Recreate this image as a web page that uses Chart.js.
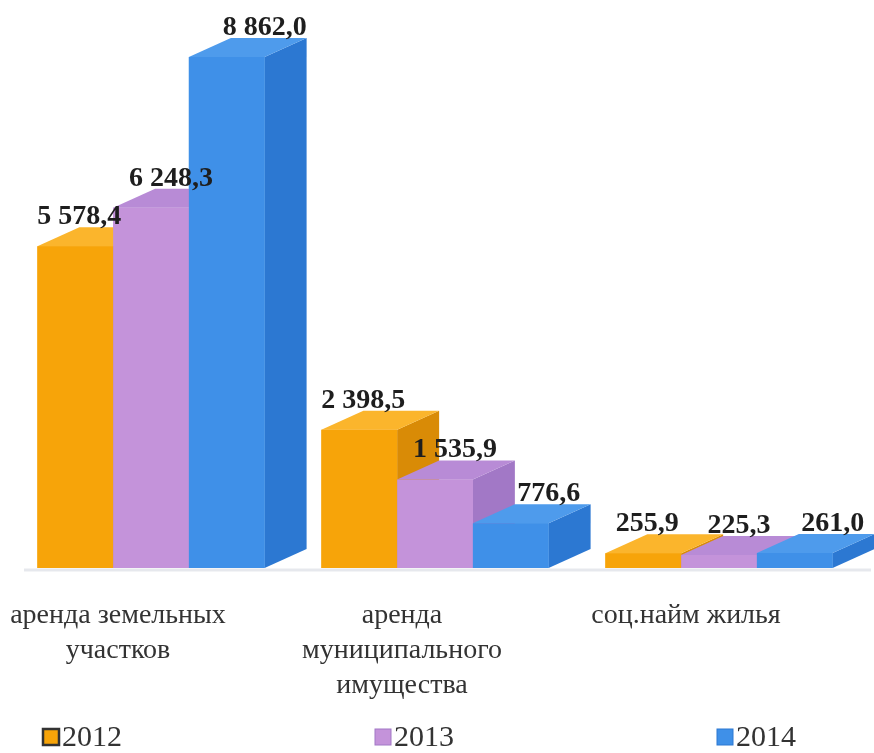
<!DOCTYPE html>
<html>
<head>
<meta charset="utf-8">
<script src="https://cdn.jsdelivr.net/npm/chart.js@4.4.0/dist/chart.umd.min.js"></script>
<style>
  html, body { margin: 0; padding: 0; background: #fff; }
  canvas { display: block; }
</style>
</head>
<body>
<canvas id="bar-chart" width="874" height="753"></canvas>
<script>
const categories = [
    ['аренда земельных', 'участков'],
    ['аренда', 'муниципального', 'имущества'],
    ['соц.найм жилья']
];
const years = ['2012', '2013', '2014'];
const values2012 = [5578.4, 2398.5, 255.9];
const values2013 = [6248.3, 1535.9, 225.3];
const values2014 = [8862.0, 776.6, 261.0];

// front, top, side colours for each year
const palette = [
    {front: '#F7A409', top: '#FBB52C', side: '#D98B06'},
    {front: '#C493DA', top: '#B88BD6', side: '#A278C6'},
    {front: '#3F90E8', top: '#4E9BEC', side: '#2C78D2'}
];
const depth = {dx: 42, dy: 19};
const labelShift = [4, 20, 38];   // perspective shift of value labels per series
const serif = '"Liberation Serif", "Times New Roman", serif';

function fmt(v) {
    const parts = v.toFixed(1).split('.');
    return parts[0].replace(/\B(?=(\d{3})+(?!\d))/g, ' ') + ',' + parts[1];
}

function poly(ctx, pts, color) {
    ctx.beginPath();
    ctx.moveTo(pts[0][0], pts[0][1]);
    for (let i = 1; i < pts.length; i++) ctx.lineTo(pts[i][0], pts[i][1]);
    ctx.closePath();
    ctx.fillStyle = color;
    ctx.fill();
}

const bars3d = {
    id: 'bars3d',
    beforeDatasetsDraw(chart) {
        const ctx = chart.ctx;
        const area = chart.chartArea;
        // floor shadow
        ctx.save();
        ctx.strokeStyle = 'rgba(200,205,215,0.45)';
        ctx.lineWidth = 3;
        ctx.beginPath();
        ctx.moveTo(area.left + 15, area.bottom + 2);
        ctx.lineTo(area.right + 10, area.bottom + 2);
        ctx.stroke();
        ctx.restore();
    },
    afterDatasetsDraw(chart) {
        const ctx = chart.ctx;
        const metas = chart.data.datasets.map((ds, d) => chart.getDatasetMeta(d));
        ctx.save();
        chart.data.labels.forEach((lab, i) => {
            metas.forEach((meta, d) => {
                const c = palette[d];
                const {x, y, base, width} = meta.data[i].getProps(['x', 'y', 'base', 'width'], true);
                const l = x - width / 2, r = x + width / 2;
                poly(ctx, [[r, y], [r + depth.dx, y - depth.dy], [r + depth.dx, base - depth.dy], [r, base]], c.side);
                poly(ctx, [[l, y], [l + depth.dx, y - depth.dy], [r + depth.dx, y - depth.dy], [r, y]], c.top);
                poly(ctx, [[l, y], [r, y], [r, base], [l, base]], c.front);
            });
        });
        ctx.restore();
    },
    afterDraw(chart) {
        const ctx = chart.ctx;
        const xs = chart.scales.x;
        ctx.save();
        // value labels
        ctx.font = 'bold 28px ' + serif;
        ctx.fillStyle = '#1e1e1e';
        ctx.textAlign = 'center';
        ctx.textBaseline = 'alphabetic';
        chart.data.datasets.forEach((ds, d) => {
            chart.getDatasetMeta(d).data.forEach((el, i) => {
                ctx.fillText(fmt(ds.data[i]), el.x + labelShift[d], el.y - depth.dy - 3);
            });
        });
        // category labels
        ctx.font = '28px ' + serif;
        ctx.fillStyle = '#333';
        ctx.textBaseline = 'middle';
        categories.forEach((lines, i) => {
            const cx = xs.getPixelForValue(i) - 33;
            lines.forEach((t, k) => ctx.fillText(t, cx, 616 + k * 35));
        });
        // legend
        const lx = [43, 375, 717];
        ctx.font = '30px ' + serif;
        ctx.textAlign = 'left';
        years.forEach((y, i) => {
            const c = palette[i];
            ctx.fillStyle = c.front;
            ctx.fillRect(lx[i], 729, 16, 16);
            ctx.strokeStyle = i === 0 ? '#333' : c.side;
            ctx.lineWidth = i === 0 ? 2.5 : 1;
            ctx.strokeRect(lx[i], 729, 16, 16);
            ctx.fillStyle = '#333';
            ctx.fillText(y, lx[i] + 19, 738);
        });
        ctx.restore();
    }
};

const ctx = document.getElementById('bar-chart').getContext('2d');
const myChart = new Chart(ctx, {
    type: 'bar',
    data: {
        labels: categories,
        datasets: [
            {label: years[0], data: values2012, backgroundColor: palette[0].front},
            {label: years[1], data: values2013, backgroundColor: palette[1].front},
            {label: years[2], data: values2014, backgroundColor: palette[2].front}
        ]
    },
    options: {
        responsive: false,
        animation: false,
        layout: {padding: {left: 9, right: 13, top: 49, bottom: 185}},
        datasets: {bar: {categoryPercentage: 0.8, barPercentage: 1.0}},
        plugins: {
            legend: {display: false},
            tooltip: {enabled: false},
            title: {display: false}
        },
        scales: {
            x: {display: false},
            y: {display: false, min: 0, max: 9000}
        }
    },
    plugins: [bars3d]
});
</script>
</body>
</html>
